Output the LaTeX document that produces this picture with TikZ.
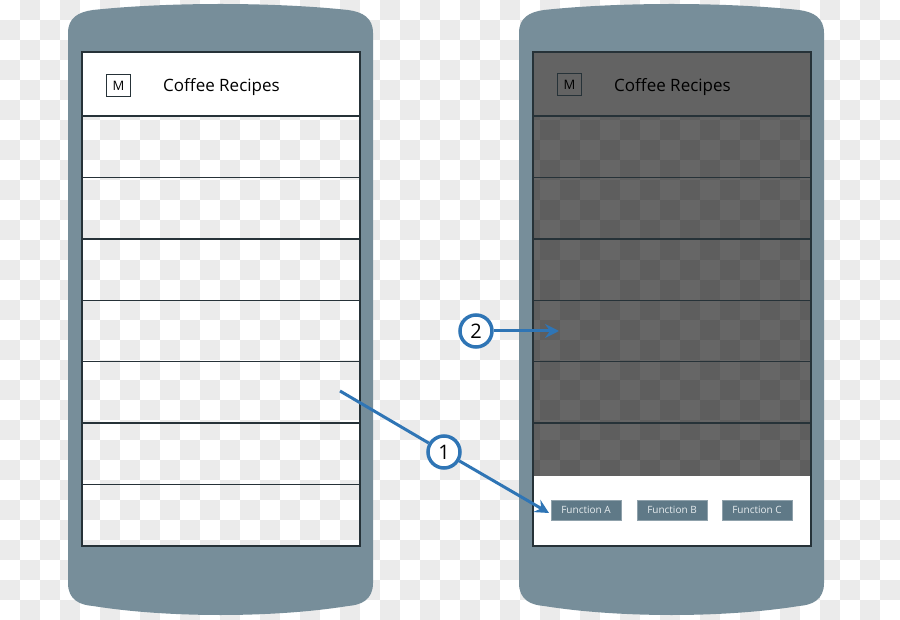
\documentclass[tikz,border=0pt]{standalone}
\usepackage{fontspec}
\setmainfont{Open Sans}
\usetikzlibrary{arrows.meta}
\definecolor{checkgray}{HTML}{EBEBEB}
\definecolor{phonebody}{HTML}{778E9A}
\definecolor{framedark}{HTML}{263238}
\definecolor{headgray}{HTML}{636363}
\definecolor{btnfill}{HTML}{5F7987}
\definecolor{btntext}{HTML}{E6ECEF}
\definecolor{callblue}{HTML}{2F75B5}

\begin{document}
\begin{tikzpicture}[x=1pt,y=-1pt,
	screenline/.style={draw=framedark, line width=1.5pt},
	menubox/.style={draw=framedark, line width=1.3pt, minimum width=24pt, minimum height=22pt, inner sep=0pt, font=\fontsize{13}{13}\selectfont},
	apptitle/.style={font=\fontsize{17}{17}\selectfont, text=black},
	fnbutton/.style={fill=btnfill, draw=btnfill!70!white, line width=0.6pt, minimum width=70pt, minimum height=20pt, inner sep=0pt, text=btntext, font=\fontsize{10}{10}\selectfont},
	callout/.style={circle, draw=callblue, line width=3.5pt, fill=white, minimum size=32pt, inner sep=0pt, font=\fontsize{20}{20}\selectfont},
	callarrow/.style={callblue, line width=3pt, -{Stealth[length=14pt,width=14pt,inset=5pt]}}]
		\useasboundingbox (0,0) rectangle (900,620);
		\fill[white] (0,0) rectangle (900,620);
		\foreach \j in {0,...,30}{
			\pgfmathtruncatemacro\shift{mod(\j+1,2)}
			\foreach \i in {0,2,...,44}
				\fill[checkgray] ({20*(\i+\shift)},{20*\j}) rectangle ++(20,20);
		}
		\foreach \L in {68,519}
			\fill[phonebody, even odd rule] (\L,33) -- (\L,583) .. controls (\L,600) and (\L+12,605) .. (\L+25,606)
				.. controls (\L+100,618) and (\L+205,618) .. (\L+280,606)
				.. controls (\L+293,605) and (\L+305,600) .. (\L+305,583) -- (\L+305,33)
				.. controls (\L+305,18) and (\L+295,12) .. (\L+280,10)
				.. controls (\L+205,2) and (\L+100,2) .. (\L+25,10)
				.. controls (\L+10,12) and (\L,18) .. (\L,33) -- cycle
				(\L+14,52) rectangle (\L+292,546);
		\fill[white] (82,52) rectangle (360,116);
		\draw[screenline] (82,52) rectangle (360,546);
		\foreach \k in {0,...,6}
			\draw[screenline] (82,{116+61.43*\k}) -- (360,{116+61.43*\k});
		\fill[headgray] (533,52) rectangle (811,116);
		\fill[black, opacity=0.6] (533,116) rectangle (811,476);
		\fill[white] (533,476) rectangle (811,546);
		\draw[screenline] (533,52) rectangle (811,546);
		\foreach \k in {0,...,5}
			\draw[screenline] (533,{116+61.43*\k}) -- (811,{116+61.43*\k});
		\node[menubox, fill=white] (menuL) at (118.5,85.5) {M};
		\node[apptitle] (titleL) at (221.5,87) {Coffee Recipes};
		\node[menubox, fill=headgray] (menuR) at (569.5,84.5) {M};
		\node[apptitle] (titleR) at (672.5,87) {Coffee Recipes};
		\node[fnbutton] (fnA) at (586,510) {Function A};
		\node[fnbutton] (fnB) at (672,510) {Function B};
		\node[fnbutton] (fnC) at (757,510) {Function C};
		\node[callout] (one) at (444,452) {1};
		\node[callout] (two) at (476,331) {2};
		\coordinate (tap) at (340,391);
		\coordinate (pressA) at (549,513);
		\coordinate (overlay) at (559,331);
		\draw[callblue, line width=3pt] (tap) -- (one);
		\draw[callarrow] (one) -- (pressA);
		\draw[callarrow] (two) -- (overlay);
	\end{tikzpicture}
\end{document}
